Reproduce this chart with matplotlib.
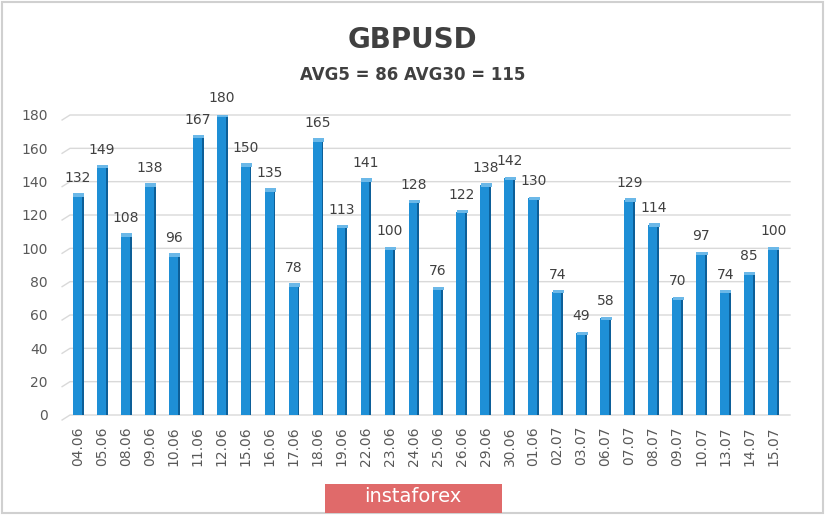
import numpy as np
import matplotlib.pyplot as plt
from matplotlib.patches import Rectangle

dates = ['04.06', '05.06', '08.06', '09.06', '10.06', '11.06', '12.06', '15.06', '16.06', '17.06',
         '18.06', '19.06', '22.06', '23.06', '24.06', '25.06', '26.06', '29.06', '30.06', '01.06',
         '02.07', '03.07', '06.07', '07.07', '08.07', '09.07', '10.07', '13.07', '14.07', '15.07']
values = [132, 149, 108, 138, 96, 167, 180, 150, 135, 78,
          165, 113, 141, 100, 128, 76, 122, 138, 142, 130,
          74, 49, 58, 129, 114, 70, 97, 74, 85, 100]
yticks = [0, 20, 40, 60, 80, 100, 120, 140, 160, 180]

txt = '#404040'
fig = plt.figure(figsize=(8.25, 5.15), dpi=100)
fig.patch.set_facecolor('white')
fig.add_artist(Rectangle((0.002, 0.003), 0.995, 0.993, transform=fig.transFigure,
                         fill=False, edgecolor='#d0d0d0', linewidth=1.5))

ax = fig.add_axes([70 / 825, 1 - 415 / 515, 720 / 825, 300 / 515])
x = np.arange(len(values))

# gridlines with a small perspective kink at the left
for t in yticks:
    ax.plot([-0.66, -0.33, 29.7], [t - 3, t, t], color='#d9d9d9', lw=1, clip_on=False, zorder=0)

# 3D-ish bars: front face, darker side, light top
ax.bar(x - 0.02, values, width=0.38, color='#1e8fd6', zorder=2)
ax.bar(x + 0.2, values, width=0.08, color='#0d5f98', zorder=2)
ax.bar(x + 0.03, [2] * len(values), bottom=np.array(values) - 1, width=0.46,
       color='#6bb8e8', zorder=3)

for xi, v in zip(x, values):
    ax.text(xi, v + 6, str(v), ha='center', va='bottom', fontsize=10, color=txt, clip_on=False)

ax.set_xlim(-0.33, 29.7)
ax.set_ylim(0, 180)
ax.set_yticks(yticks)
ax.set_xticks(x)
ax.set_xticklabels(dates, rotation=90, fontsize=10, color='#595959')
ax.tick_params(axis='y', labelsize=10, labelcolor='#595959', length=0, pad=16)
ax.tick_params(axis='x', length=0, pad=8)
for s in ax.spines.values():
    s.set_visible(False)
ax.patch.set_alpha(0)

fig.text(0.5, 1 - 40 / 515, 'GBPUSD', ha='center', va='center', fontsize=20,
         fontweight='bold', color=txt)
fig.text(0.5, 1 - 75 / 515, 'AVG5 = 86 AVG30 = 115', ha='center', va='center', fontsize=12,
         fontweight='bold', color=txt)

fig.add_artist(Rectangle((325 / 825, 0.004), 177 / 825, 29 / 515, transform=fig.transFigure,
                         facecolor='#e06a6a', edgecolor='none'))
fig.text(413 / 825, 1 - 497 / 515, 'instaforex', ha='center', va='center', fontsize=14,
         color='white')

fig.savefig('out.png', dpi=100)
